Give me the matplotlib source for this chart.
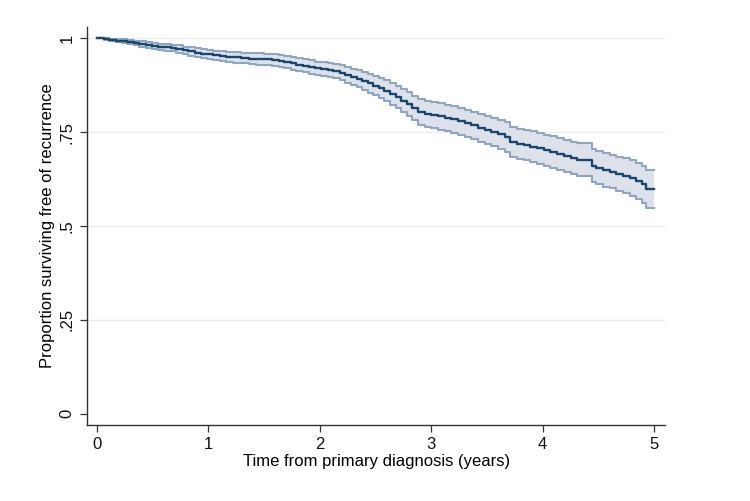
import matplotlib
matplotlib.use("Agg")
import matplotlib.pyplot as plt

# Kaplan-Meier estimate, with 95% CI
years = [0.00, 0.06, 0.11, 0.17, 0.22, 0.27, 0.33, 0.38, 0.44, 0.49,
         0.55, 0.60, 0.66, 0.71, 0.77, 0.82, 0.88, 0.93, 0.99, 1.04,
         1.10, 1.16, 1.22, 1.29, 1.36, 1.43, 1.50, 1.57, 1.63, 1.68,
         1.74, 1.79, 1.85, 1.90, 1.96, 2.01, 2.07, 2.12, 2.18, 2.23,
         2.28, 2.33, 2.38, 2.43, 2.48, 2.53, 2.58, 2.63, 2.68, 2.73,
         2.78, 2.83, 2.88, 2.94, 3.00, 3.06, 3.12, 3.18, 3.24, 3.30,
         3.36, 3.42, 3.48, 3.54, 3.60, 3.66, 3.71, 3.77, 3.83, 3.89,
         3.95, 4.01, 4.07, 4.13, 4.19, 4.25, 4.31, 4.44, 4.48, 4.54,
         4.60, 4.66, 4.72, 4.78, 4.84, 4.89, 4.93, 5.00]
surv = [1.000, 0.998, 0.996, 0.994, 0.992, 0.990, 0.987, 0.985, 0.982, 0.980,
        0.978, 0.976, 0.974, 0.971, 0.968, 0.965, 0.962, 0.959, 0.957, 0.955,
        0.953, 0.951, 0.949, 0.948, 0.946, 0.945, 0.944, 0.942, 0.940, 0.937,
        0.933, 0.930, 0.927, 0.924, 0.920, 0.918, 0.916, 0.913, 0.908, 0.903,
        0.897, 0.892, 0.886, 0.880, 0.874, 0.867, 0.860, 0.852, 0.843, 0.834,
        0.825, 0.814, 0.803, 0.798, 0.795, 0.792, 0.788, 0.784, 0.779, 0.774,
        0.768, 0.762, 0.756, 0.750, 0.744, 0.737, 0.724, 0.719, 0.715, 0.711,
        0.707, 0.702, 0.697, 0.692, 0.686, 0.681, 0.677, 0.660, 0.655, 0.650,
        0.645, 0.639, 0.634, 0.628, 0.620, 0.611, 0.598, 0.598]
lower = [1.000, 0.996, 0.993, 0.990, 0.987, 0.984, 0.981, 0.978, 0.975, 0.972,
         0.970, 0.967, 0.965, 0.961, 0.958, 0.954, 0.951, 0.947, 0.945, 0.943,
         0.940, 0.938, 0.935, 0.934, 0.932, 0.930, 0.929, 0.927, 0.924, 0.921,
         0.916, 0.913, 0.910, 0.906, 0.902, 0.900, 0.897, 0.894, 0.888, 0.882,
         0.875, 0.869, 0.862, 0.855, 0.848, 0.840, 0.832, 0.823, 0.813, 0.803,
         0.793, 0.781, 0.769, 0.764, 0.761, 0.757, 0.753, 0.749, 0.743, 0.738,
         0.732, 0.725, 0.719, 0.712, 0.706, 0.698, 0.684, 0.679, 0.675, 0.670,
         0.666, 0.661, 0.655, 0.650, 0.644, 0.638, 0.634, 0.616, 0.611, 0.605,
         0.600, 0.593, 0.587, 0.581, 0.572, 0.562, 0.548, 0.548]
upper = [1.000, 1.000, 0.999, 0.998, 0.997, 0.996, 0.993, 0.992, 0.989, 0.988,
         0.986, 0.985, 0.983, 0.981, 0.978, 0.976, 0.973, 0.971, 0.969, 0.967,
         0.966, 0.964, 0.963, 0.962, 0.960, 0.960, 0.959, 0.957, 0.956, 0.953,
         0.950, 0.947, 0.944, 0.942, 0.938, 0.936, 0.935, 0.932, 0.928, 0.924,
         0.919, 0.915, 0.910, 0.905, 0.900, 0.894, 0.888, 0.881, 0.873, 0.865,
         0.857, 0.847, 0.837, 0.832, 0.829, 0.827, 0.823, 0.819, 0.815, 0.810,
         0.804, 0.799, 0.793, 0.788, 0.782, 0.776, 0.764, 0.759, 0.755, 0.752,
         0.748, 0.743, 0.739, 0.734, 0.728, 0.724, 0.720, 0.704, 0.699, 0.695,
         0.690, 0.685, 0.681, 0.675, 0.668, 0.660, 0.648, 0.648]

x_ticks = [0, 1, 2, 3, 4, 5]
y_ticks = [0, 0.25, 0.5, 0.75, 1]
y_labels = ["0", ".25", ".5", ".75", "1"]

plt.rcParams['font.family'] = ['Liberation Sans', 'DejaVu Sans']

fig = plt.figure(figsize=(7.5, 5.01), dpi=100)
ax = fig.add_axes([0.116, 0.152, 0.771, 0.794])

# grid lines (not at 0)
for y in y_ticks[1:]:
    ax.axhline(y, color="#eaf0f2", lw=1.0, zorder=0)

ax.fill_between(years, lower, upper, step="post", color="#dde2ea", lw=0, zorder=1)
ax.step(years, lower, where="post", color="#8ea6bf", lw=1.5, zorder=2)
ax.step(years, upper, where="post", color="#8ea6bf", lw=1.5, zorder=2)
ax.step(years, surv, where="post", color="#1a476f", lw=1.7, zorder=3)

ax.set_xlim(-0.09, 5.1)
ax.set_ylim(-0.03, 1.03)
ax.set_xticks(x_ticks)
ax.set_yticks(y_ticks)
ax.set_yticklabels(y_labels, rotation=90, va="center")

for s in ["top", "right"]:
    ax.spines[s].set_visible(False)
for s in ["left", "bottom"]:
    ax.spines[s].set_color("#333333")
    ax.spines[s].set_linewidth(1.0)
ax.tick_params(direction="out", length=5, width=0.9, color="#333333",
               labelsize=12, labelcolor="#111111", pad=4)

ax.set_xlabel("Time from primary diagnosis (years)", fontsize=12, labelpad=1)
ax.set_ylabel("Proportion surviving free of recurrence", fontsize=12, labelpad=3)

fig.savefig("out.png", dpi=100)
